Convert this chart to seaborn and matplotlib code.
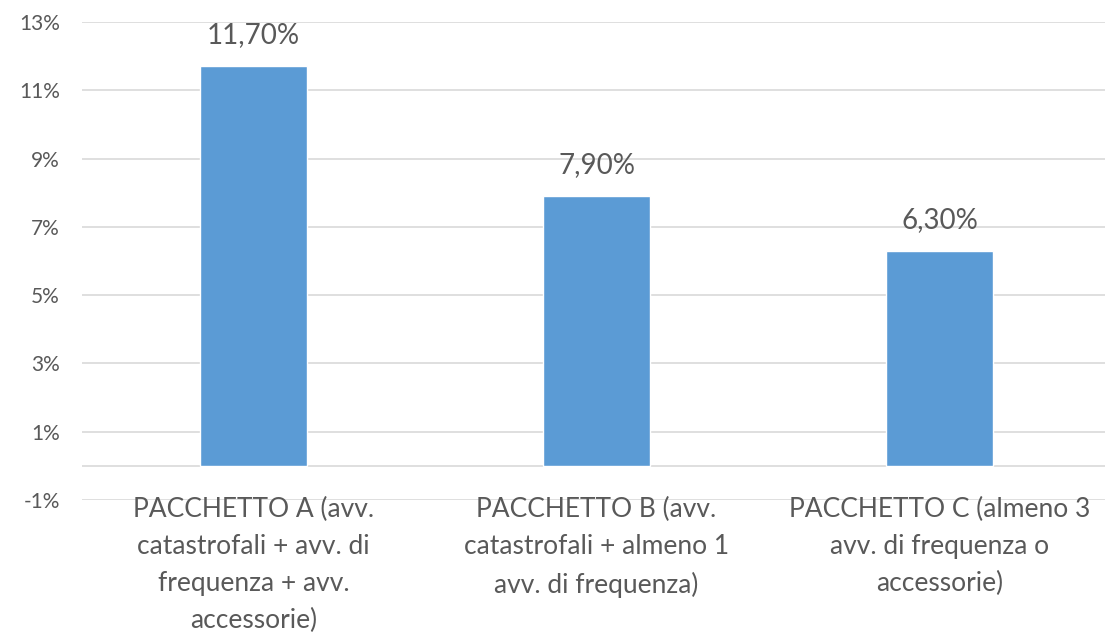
import matplotlib
matplotlib.use("Agg")
import matplotlib.pyplot as plt
import seaborn as sns
import pandas as pd

categories = [
    "PACCHETTO A (avv.\ncatastrofali + avv. di\nfrequenza + avv.\naccessorie)",
    "PACCHETTO B (avv.\ncatastrofali + almeno 1\navv. di frequenza)",
    "PACCHETTO C (almeno 3\navv. di frequenza o\naccessorie)",
]
values = [11.7, 7.9, 6.3]
value_labels = ["11,70%", "7,90%", "6,30%"]
yticks = [-1, 1, 3, 5, 7, 9, 11, 13]
ytick_labels = ["-1%", "1%", "3%", "5%", "7%", "9%", "11%", "13%"]

sns.set_theme(style="white")
plt.rcParams["font.family"] = ["Lato", "DejaVu Sans"]

text_color = "#595959"
grid_color = "#D9D9D9"
bar_color = "#5B9BD5"

df = pd.DataFrame({"cat": categories, "val": values})

fig = plt.figure(figsize=(11.05, 6.37), dpi=100)
ax = fig.add_axes([82 / 1105, 1 - 500 / 637, 1029 / 1105, 478 / 637])

for y in yticks:
    ax.axhline(y, color=grid_color, lw=1.2, zorder=0)
ax.axhline(0, color=grid_color, lw=1.2, zorder=0)

sns.barplot(data=df, x="cat", y="val", color=bar_color, width=0.31,
            saturation=1, ax=ax, zorder=2)

ax.bar_label(ax.containers[0], labels=value_labels, padding=13,
             fontsize=20, color=text_color)

ax.set_ylim(-1, 13)
ax.set_xlim(-0.5, 2.5)
ax.set_yticks(yticks)
ax.set_yticklabels(ytick_labels, fontsize=15, color=text_color)
ax.set_xticks(range(len(categories)))
ax.set_xticklabels(categories, fontsize=19, color=text_color, linespacing=1.6)
ax.tick_params(axis="y", length=0, pad=16)
ax.tick_params(axis="x", length=0, pad=-2)
ax.set_xlabel("")
ax.set_ylabel("")
for s in ax.spines.values():
    s.set_visible(False)
ax.grid(False)

fig.savefig("out.png", dpi=100)
